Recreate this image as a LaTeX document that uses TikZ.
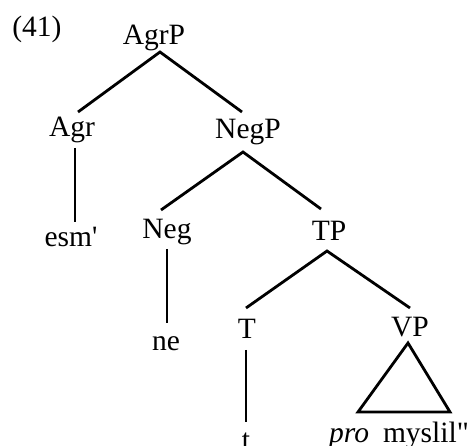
\documentclass[tikz,border=0pt]{standalone}
\usepackage{fontspec}
\setmainfont{Liberation Serif}[Ligatures=TeXOff]
\begin{document}
\begin{tikzpicture}[x=1pt,y=-1pt,
  lab/.style={anchor=base,inner sep=0pt,font=\fontsize{29.5}{34}\selectfont},
  branch/.style={line width=2.8pt,line join=miter,line cap=butt}]
\useasboundingbox (0,0) rectangle (474,446);

% example number
\node[lab] (ex) at (37,37) {(41)};

% node labels
\node[lab] (agrp) at (154,45)  {AgrP};
\node[lab] (agr)  at (72,137)  {Agr};
\node[lab] (negp) at (248,139) {NegP};
\node[lab] (esm)  at (71,247)  {esm'};
\node[lab] (neg)  at (167,239) {Neg};
\node[lab] (tp)   at (329,241) {TP};
\node[lab] (ne)   at (166,351) {ne};
\node[lab] (th)   at (247,338) {T};
\node[lab] (vp)   at (410,337) {VP};
\node[lab] (tr)   at (246,449) {t};
\node[lab] (vpt)  at (399,442) {\textit{pro}\hspace{14pt}myslil"};

% branches
\draw[branch] ([shift={(6,-25)}]agr.base) -- ([shift={(6,7)}]agrp.base)
              -- ([shift={(-6,-27)}]negp.base);
\draw[branch] ([shift={(3,11)}]agr.base) -- ([shift={(4,-25)}]esm.base);
\draw[branch] ([shift={(-6,-29)}]neg.base) -- ([shift={(-5,13)}]negp.base)
              -- ([shift={(-8,-32)}]tp.base);
\draw[branch] ([shift={(0,10)}]neg.base) -- ([shift={(1,-28)}]ne.base);
\draw[branch] ([shift={(-1,-30)}]th.base) -- ([shift={(-2,10)}]tp.base)
              -- ([shift={(0,-29)}]vp.base);
\draw[branch] ([shift={(-1,12)}]th.base) -- ([shift={(0,-27)}]tr.base);

% triangle over the VP material
\draw[branch] ([shift={(-2,6)}]vp.base) -- ([shift={(-41,-30)}]vpt.base)
              -- ([shift={(51,-30)}]vpt.base) -- cycle;
\end{tikzpicture}
\end{document}
